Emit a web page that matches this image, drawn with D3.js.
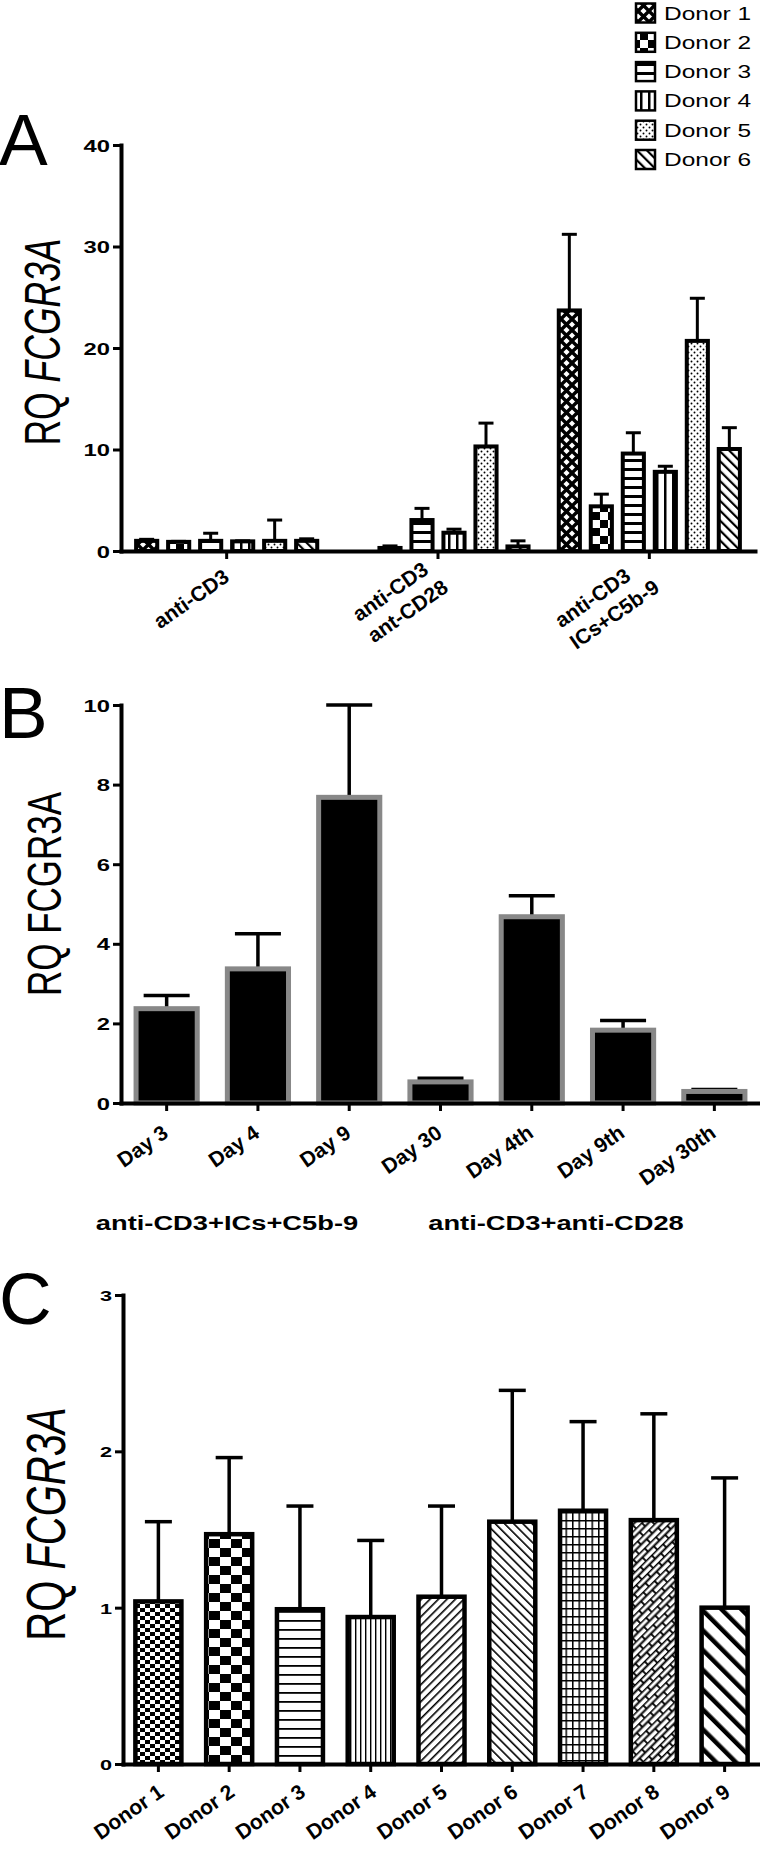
<!DOCTYPE html>
<html><head><meta charset="utf-8">
<script src="https://cdn.jsdelivr.net/npm/d3@7"></script>
<style>
html,body{margin:0;padding:0;background:#fff;}
svg{display:block;font-family:"Liberation Sans",Arial,Helvetica,sans-serif;}
</style></head><body>
<svg id="chart" width="760" height="1850"></svg>
<script>
// ---------------- DATA ----------------
// Panel A
const donorsA = ["Donor 1","Donor 2","Donor 3","Donor 4","Donor 5","Donor 6"];
const groupsA = ["anti-CD3", "anti-CD3\nant-CD28", "anti-CD3\nICs+C5b-9"];
const valsA_antiCD3      = [1.00, 0.90, 1.00, 0.95, 1.00, 1.00];
const sdA_antiCD3        = [0.15, 0.05, 0.75, 0.05, 2.05, 0.20];
const valsA_antiCD28     = [null, 0.30, 3.05, 1.80, 10.3, 0.45];
const sdA_antiCD28       = [null, 0.20, 1.15, 0.35, 2.30, 0.55];
const valsA_ICs          = [23.7, 4.40, 9.60, 7.80, 20.7, 10.05];
const sdA_ICs            = [7.50, 1.20, 2.05, 0.55, 4.20, 2.10];
const ticksA = [0, 10, 20, 30, 40];

// Panel B
const daysB = ["Day 3","Day 4","Day 9","Day 30","Day 4th","Day 9th","Day 30th"];
const valsB = [2.37, 3.37, 7.68, 0.53, 4.68, 1.83, 0.29];
const sdB   = [0.33, 0.88, 2.32, 0.09, 0.53, 0.24, 0.05];
const ticksB = [0, 2, 4, 6, 8, 10];
const groupLabelsB = ["anti-CD3+ICs+C5b-9", "anti-CD3+anti-CD28"];

// Panel C
const donorsC = ["Donor 1","Donor 2","Donor 3","Donor 4","Donor 5","Donor 6","Donor 7","Donor 8","Donor 9"];
const valsC = [1.04, 1.47, 0.99, 0.94, 1.07, 1.55, 1.62, 1.56, 1.00];
const sdC   = [0.51, 0.49, 0.66, 0.49, 0.58, 0.84, 0.57, 0.68, 0.83];
const ticksC = [0, 1, 2, 3];

// ---------------- DRAWING ----------------
const SX = 1.4; // horizontal stretch of the original figure's lettering
const svg = d3.select("#chart");
const defs = svg.append("defs");

function stretch(x, y) { return `translate(${x},${y}) scale(${SX},1)`; }
function stretchRot(x, y, deg) {
  const t = deg * Math.PI / 180, c = Math.cos(t), s = Math.sin(t);
  return `matrix(${SX * c},${s},${-SX * s},${c},${x},${y})`;
}
function pat(id, w, h, draw, rot) {
  const p = defs.append("pattern").attr("id", id)
    .attr("patternUnits", "userSpaceOnUse").attr("width", w).attr("height", h);
  if (rot) p.attr("patternTransform", `rotate(${rot})`);
  p.append("rect").attr("width", w).attr("height", h).attr("fill", "#fff");
  draw(p, w, h);
}
const blk = (p, x, y, w, h) => p.append("rect").attr("x", x).attr("y", y).attr("width", w).attr("height", h).attr("fill", "#000");
const pth = (p, d, sw) => p.append("path").attr("d", d).attr("stroke", "#000").attr("stroke-width", sw).attr("fill", "none");

// Panel A patterns
pat("pA1", 11, 11, (p) => pth(p, "M-1,-1L12,12M12,-1L-1,12", 3.4));
pat("pA2", 16, 16, (p) => { blk(p, 0, 0, 8, 8); blk(p, 8, 8, 8, 8); });
pat("pA3", 8, 9, (p) => blk(p, 0, 0, 8, 3));
pat("pA4", 8, 8, (p) => blk(p, 0, 0, 2.5, 8));
pat("pA5", 6, 6, (p) => {
  p.append("circle").attr("cx", 1.5).attr("cy", 1.5).attr("r", 0.95).attr("fill", "#000");
  p.append("circle").attr("cx", 4.5).attr("cy", 4.5).attr("r", 0.95).attr("fill", "#000");
});
pat("pA6", 7, 7, (p) => blk(p, 0, 0, 2.2, 7), -45);

// Panel C patterns
pat("pC1", 10, 8, (p) => { blk(p, 0, 0, 5, 4); blk(p, 5, 4, 5, 4); });
pat("pC2", 22, 18, (p) => { blk(p, 0, 0, 11, 9); blk(p, 11, 9, 11, 9); });
pat("pC3", 10, 9, (p) => blk(p, 0, 0, 10, 1.8));
pat("pC4", 5, 10, (p) => blk(p, 0, 0, 1.4, 10));
pat("pC5", 6, 6, (p) => blk(p, 0, 0, 1.6, 6), 45);
pat("pC6", 6.5, 6.5, (p) => blk(p, 0, 0, 1.6, 6.5), -45);
pat("pC7", 6.5, 8, (p) => { blk(p, 0, 0, 1.5, 8); blk(p, 0, 0, 6.5, 1.5); });
pat("pC8", 16, 10, (p) => pth(p, "M0,0.5H16M0,5.5H16M1,0V5.5M9,5V10", 1.8), -45);
pat("pC9", 14, 14, (p) => blk(p, 0, 0, 4.5, 14), -45);

function styleYAxis(g, fs) {
  g.select(".domain").attr("stroke-width", 4).attr("stroke-linecap", "square");
  g.selectAll(".tick line").attr("stroke-width", 3);
  g.selectAll(".tick text")
    .attr("x", null).attr("dy", null)
    .attr("transform", `translate(-11,${fs * 0.36}) scale(${SX},1)`)
    .attr("font-size", fs).attr("font-weight", "bold").attr("fill", "#000")
    .attr("font-family", '"Liberation Sans", Arial, sans-serif');
}
function styleXAxis(g) {
  g.select(".domain").attr("stroke-width", 4).attr("stroke-linecap", "square");
  g.selectAll(".tick line").attr("stroke-width", 3);
  g.selectAll(".tick text").remove();
}
// rotated category labels: block right-aligned at the tick, lines left-aligned
function rotLabels(xs, labels, axisY, dx, dy, fs, lh) {
  labels.forEach((lab, i) => {
    const lines = lab.split("\n"), n = lines.length;
    const g = svg.append("g").attr("transform", `translate(${xs[i] + dx},${axisY + dy}) rotate(-35)`);
    const ts = lines.map((ln, j) => g.append("text").text(ln)
      .attr("font-size", fs).attr("font-weight", "bold").attr("fill", "#000")
      .attr("y", (j - (n - 1) / 2) * lh));
    const maxLen = d3.max(ts, t => t.node().getComputedTextLength());
    ts.forEach(t => t.attr("x", -maxLen));
  });
}
function yLabel(x, y, fs, italic) {
  const t = svg.append("text").attr("transform", stretchRot(x, y, -90))
    .attr("text-anchor", "middle").attr("font-size", fs);
  t.append("tspan").text("RQ ");
  t.append("tspan").text("FCGR3A").attr("font-style", italic ? "italic" : "normal");
}
function panelLetter(l, y) {
  svg.append("text").text(l).attr("x", -1).attr("y", y).attr("font-size", 73);
}

// ======== PANEL A ========
{
  const yA = d3.scaleLinear().domain([0, 40]).range([551, 145]);
  const xA = d3.scaleBand().domain(groupsA).range([121, 755]);
  const xIn = d3.scaleBand().domain(donorsA).range([-96, 96]).paddingInner(0.34).paddingOuter(0.17);
  const series = [[valsA_antiCD3, sdA_antiCD3], [valsA_antiCD28, sdA_antiCD28], [valsA_ICs, sdA_ICs]];
  const recs = [];
  groupsA.forEach((g, gi) => donorsA.forEach((d, di) => {
    const v = series[gi][0][di], s = series[gi][1][di];
    if (v != null) recs.push({ g, d, di, v, s });
  }));
  const cx = r => xA(r.g) + xA.bandwidth() / 2 + xIn(r.d) + xIn.bandwidth() / 2;
  const eb = svg.append("g").attr("stroke", "#000").attr("stroke-width", 3);
  recs.forEach(r => {
    eb.append("line").attr("x1", cx(r)).attr("x2", cx(r)).attr("y1", yA(r.v)).attr("y2", yA(r.v + r.s));
    eb.append("line").attr("x1", cx(r) - 7.5).attr("x2", cx(r) + 7.5).attr("y1", yA(r.v + r.s)).attr("y2", yA(r.v + r.s));
  });
  svg.append("g").selectAll("rect").data(recs).join("rect")
    .attr("x", r => cx(r) - xIn.bandwidth() / 2).attr("width", xIn.bandwidth())
    .attr("y", r => yA(r.v)).attr("height", r => yA(0) - yA(r.v))
    .attr("fill", r => `url(#pA${r.di + 1})`).attr("stroke", "#000").attr("stroke-width", 4);

  const gy = svg.append("g").attr("transform", "translate(121,0)")
    .call(d3.axisLeft(yA).tickValues(ticksA).tickSize(8).tickSizeOuter(0).tickFormat(d3.format("d")));
  styleYAxis(gy, 17);
  const gx = svg.append("g").attr("transform", "translate(0,551)")
    .call(d3.axisBottom(xA).tickSize(8).tickSizeOuter(0));
  styleXAxis(gx);
  rotLabels(groupsA.map(g => xA(g) + xA.bandwidth() / 2), groupsA, 551, 4, 29, 21, 26);

  yLabel(60, 342, 35.5, true);
  panelLetter("A", 165);

  // legend
  const lg = svg.append("g");
  donorsA.forEach((d, i) => {
    const cy = 13 + i * 29.3;
    lg.append("rect").attr("x", 636).attr("y", cy - 9.5).attr("width", 19).attr("height", 19)
      .attr("fill", `url(#pA${i + 1})`).attr("stroke", "#000").attr("stroke-width", 2.5);
    lg.append("text").text(d).attr("transform", stretch(664, cy + 6.5)).attr("font-size", 17.5);
  });
}

// ======== PANEL B ========
{
  const yB = d3.scaleLinear().domain([0, 10]).range([1103, 705]);
  const xB = d3.scaleBand().domain(daysB).range([121, 760]).paddingInner(0.33).paddingOuter(0.165);
  const recs = daysB.map((d, i) => ({ d, v: valsB[i], s: sdB[i] }));
  const cx = r => xB(r.d) + xB.bandwidth() / 2;
  const eb = svg.append("g").attr("stroke", "#000").attr("stroke-width", 3.5);
  recs.forEach(r => {
    eb.append("line").attr("x1", cx(r)).attr("x2", cx(r)).attr("y1", yB(r.v)).attr("y2", yB(r.v + r.s));
    eb.append("line").attr("x1", cx(r) - 23).attr("x2", cx(r) + 23).attr("y1", yB(r.v + r.s)).attr("y2", yB(r.v + r.s));
  });
  svg.append("g").selectAll("rect").data(recs).join("rect")
    .attr("x", r => xB(r.d)).attr("width", xB.bandwidth())
    .attr("y", r => yB(r.v)).attr("height", r => yB(0) - yB(r.v))
    .attr("fill", "#000").attr("stroke", "#888").attr("stroke-width", 5);
  const gy = svg.append("g").attr("transform", "translate(121,0)")
    .call(d3.axisLeft(yB).tickValues(ticksB).tickSize(8).tickSizeOuter(0).tickFormat(d3.format("d")));
  styleYAxis(gy, 17);
  const xT = d3.scaleBand().domain(daysB).range([121, 760]);
  const gx = svg.append("g").attr("transform", "translate(0,1103)")
    .call(d3.axisBottom(xT).tickSize(8).tickSizeOuter(0));
  styleXAxis(gx);
  rotLabels(daysB.map(d => xT(d) + xT.bandwidth() / 2), daysB, 1103, 3, 33, 21, 26);
  const glx = [227, 556];
  groupLabelsB.forEach((l, i) => svg.append("text").text(l)
    .attr("transform", stretch(glx[i], 1230)).attr("text-anchor", "middle")
    .attr("font-size", 19.5).attr("font-weight", "bold"));
  yLabel(61, 894, 35, false);
  panelLetter("B", 738);
}

// ======== PANEL C ========
{
  const yC = d3.scaleLinear().domain([0, 3]).range([1764, 1295]);
  const xC = d3.scaleBand().domain(donorsC).range([123, 760]).paddingInner(0.35).paddingOuter(0.175);
  const recs = donorsC.map((d, i) => ({ d, i, v: valsC[i], s: sdC[i] }));
  const cx = r => xC(r.d) + xC.bandwidth() / 2;
  const eb = svg.append("g").attr("stroke", "#000").attr("stroke-width", 3.5);
  recs.forEach(r => {
    eb.append("line").attr("x1", cx(r)).attr("x2", cx(r)).attr("y1", yC(r.v)).attr("y2", yC(r.v + r.s));
    eb.append("line").attr("x1", cx(r) - 13.5).attr("x2", cx(r) + 13.5).attr("y1", yC(r.v + r.s)).attr("y2", yC(r.v + r.s));
  });
  svg.append("g").selectAll("rect").data(recs).join("rect")
    .attr("x", r => xC(r.d)).attr("width", xC.bandwidth())
    .attr("y", r => yC(r.v)).attr("height", r => yC(0) - yC(r.v))
    .attr("fill", r => `url(#pC${r.i + 1})`).attr("stroke", "#000").attr("stroke-width", 4.5);
  const gy = svg.append("g").attr("transform", "translate(123,0)")
    .call(d3.axisLeft(yC).tickValues(ticksC).tickSize(8).tickSizeOuter(0).tickFormat(d3.format("d")));
  styleYAxis(gy, 15.5);
  const xT = d3.scaleBand().domain(donorsC).range([123, 760]);
  const gx = svg.append("g").attr("transform", "translate(0,1764)")
    .call(d3.axisBottom(xT).tickSize(8).tickSizeOuter(0));
  styleXAxis(gx);
  rotLabels(donorsC.map(d => xT(d) + xT.bandwidth() / 2), donorsC, 1764, 7, 31, 21, 26);
  yLabel(65, 1524, 40, true);
  panelLetter("C", 1324);
}
</script>
</body></html>
